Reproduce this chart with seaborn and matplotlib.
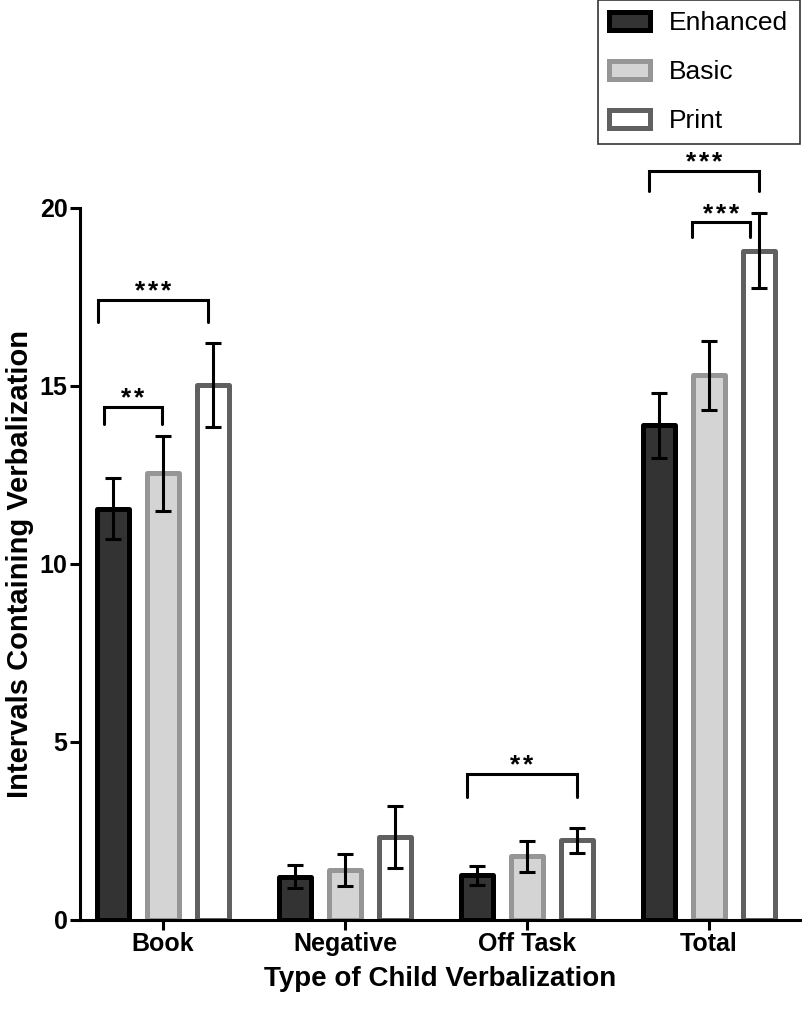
import matplotlib
matplotlib.use("Agg")
import matplotlib.pyplot as plt
import seaborn as sns
import pandas as pd
from matplotlib.patches import Patch

# ---------------- data ----------------
categories = ["Book", "Negative", "Off Task", "Total"]
conditions = ["Enhanced", "Basic", "Print"]
enhanced_means = [11.55, 1.22, 1.25, 13.90]
basic_means = [12.55, 1.40, 1.79, 15.30]
print_means = [15.02, 2.33, 2.24, 18.80]
enhanced_err = [0.86, 0.32, 0.27, 0.91]
basic_err = [1.05, 0.44, 0.43, 0.97]
print_err = [1.18, 0.88, 0.35, 1.06]

# significance brackets: category index, left/right offset (category units), top y, leg drop, label
bracket_cat = [0, 0, 2, 3, 3]
bracket_left = [-0.357, -0.324, -0.33, -0.33, -0.093]
bracket_right = [0.247, -0.007, 0.275, 0.273, 0.225]
bracket_top = [17.42, 14.42, 4.10, 21.05, 19.60]
bracket_drop = [0.62, 0.48, 0.65, 0.57, 0.42]
bracket_label = ["***", "**", "**", "***", "***"]

# ---------------- style ----------------
sns.set_style("ticks")
plt.rcParams["font.family"] = ["Liberation Sans", "DejaVu Sans"]
for key in ["text.color", "axes.labelcolor", "xtick.color", "ytick.color", "axes.edgecolor"]:
    plt.rcParams[key] = "black"

face_colors = {"Enhanced": "#333333", "Basic": "#d4d4d4", "Print": "#ffffff"}
edge_colors = {"Enhanced": "#000000", "Basic": "#969696", "Print": "#606060"}

df = pd.DataFrame({
    "category": categories * 3,
    "condition": [c for c in conditions for _ in categories],
    "value": enhanced_means + basic_means + print_means,
})
errs = {"Enhanced": enhanced_err, "Basic": basic_err, "Print": print_err}

fig = plt.figure(figsize=(8.02, 10.17), dpi=100)
ax = fig.add_axes([0.0998, 0.0954, 0.8978, 0.7001])

sns.barplot(data=df, x="category", y="value", hue="condition",
            order=categories, hue_order=conditions,
            palette=face_colors, width=0.825, gap=0.36,
            errorbar=None, legend=False, ax=ax)

bar_lw = 3.6
for cond, cont in zip(conditions, ax.containers):
    xs, ys = [], []
    for patch in cont.patches:
        patch.set_edgecolor(edge_colors[cond])
        patch.set_linewidth(bar_lw)
        patch.set_joinstyle("round")
        xs.append(patch.get_x() + patch.get_width() / 2)
        ys.append(patch.get_height())
    ax.errorbar(xs, ys, yerr=errs[cond], fmt="none", ecolor="black",
                elinewidth=2.2, capsize=6, capthick=2.2, zorder=5)

# brackets with spaced asterisks
star_step = 9.4  # points between star centres
for ci, l, r, top, drop, lab in zip(bracket_cat, bracket_left, bracket_right,
                                    bracket_top, bracket_drop, bracket_label):
    x0, x1 = ci + l, ci + r
    ax.plot([x0, x0, x1, x1], [top - drop, top, top, top - drop],
            color="black", lw=2.2, clip_on=False, solid_joinstyle="miter")
    n = len(lab)
    for k, ch in enumerate(lab):
        dx = (k - (n - 1) / 2) * star_step
        ax.annotate(ch, xy=((x0 + x1) / 2, top), xytext=(dx, 1.0),
                    textcoords="offset points", ha="center", va="baseline",
                    fontsize=19, fontweight="bold", color="black",
                    annotation_clip=False)

ax.set_xlim(-0.456, 3.5)
ax.set_ylim(0, 20)
ax.set_yticks([0, 5, 10, 15, 20])
sns.despine(ax=ax)
for s in ["left", "bottom"]:
    ax.spines[s].set_linewidth(2.2)
    ax.spines[s].set_color("black")
ax.tick_params(axis="both", width=2.2, length=7, labelsize=18, pad=2, colors="black")
for lbl in ax.get_xticklabels() + ax.get_yticklabels():
    lbl.set_fontweight("bold")

ax.set_xlabel("Type of Child Verbalization", fontsize=20, fontweight="bold", labelpad=7)
ax.set_ylabel("Intervals Containing Verbalization", fontsize=21, fontweight="bold", labelpad=4)

handles = [Patch(facecolor=face_colors[c], edgecolor=edge_colors[c], linewidth=bar_lw)
           for c in conditions]
leg = fig.legend(handles, conditions, loc="upper right",
                 bbox_to_anchor=(799.5 / 802, 1.0), borderaxespad=0,
                 fontsize=19, frameon=True, fancybox=False,
                 handlelength=1.55, handleheight=0.68, handletextpad=0.72,
                 labelspacing=0.95, borderpad=0.42)
leg.get_frame().set_edgecolor("black")
leg.get_frame().set_linewidth(1.2)

fig.savefig("out.png", dpi=100)
